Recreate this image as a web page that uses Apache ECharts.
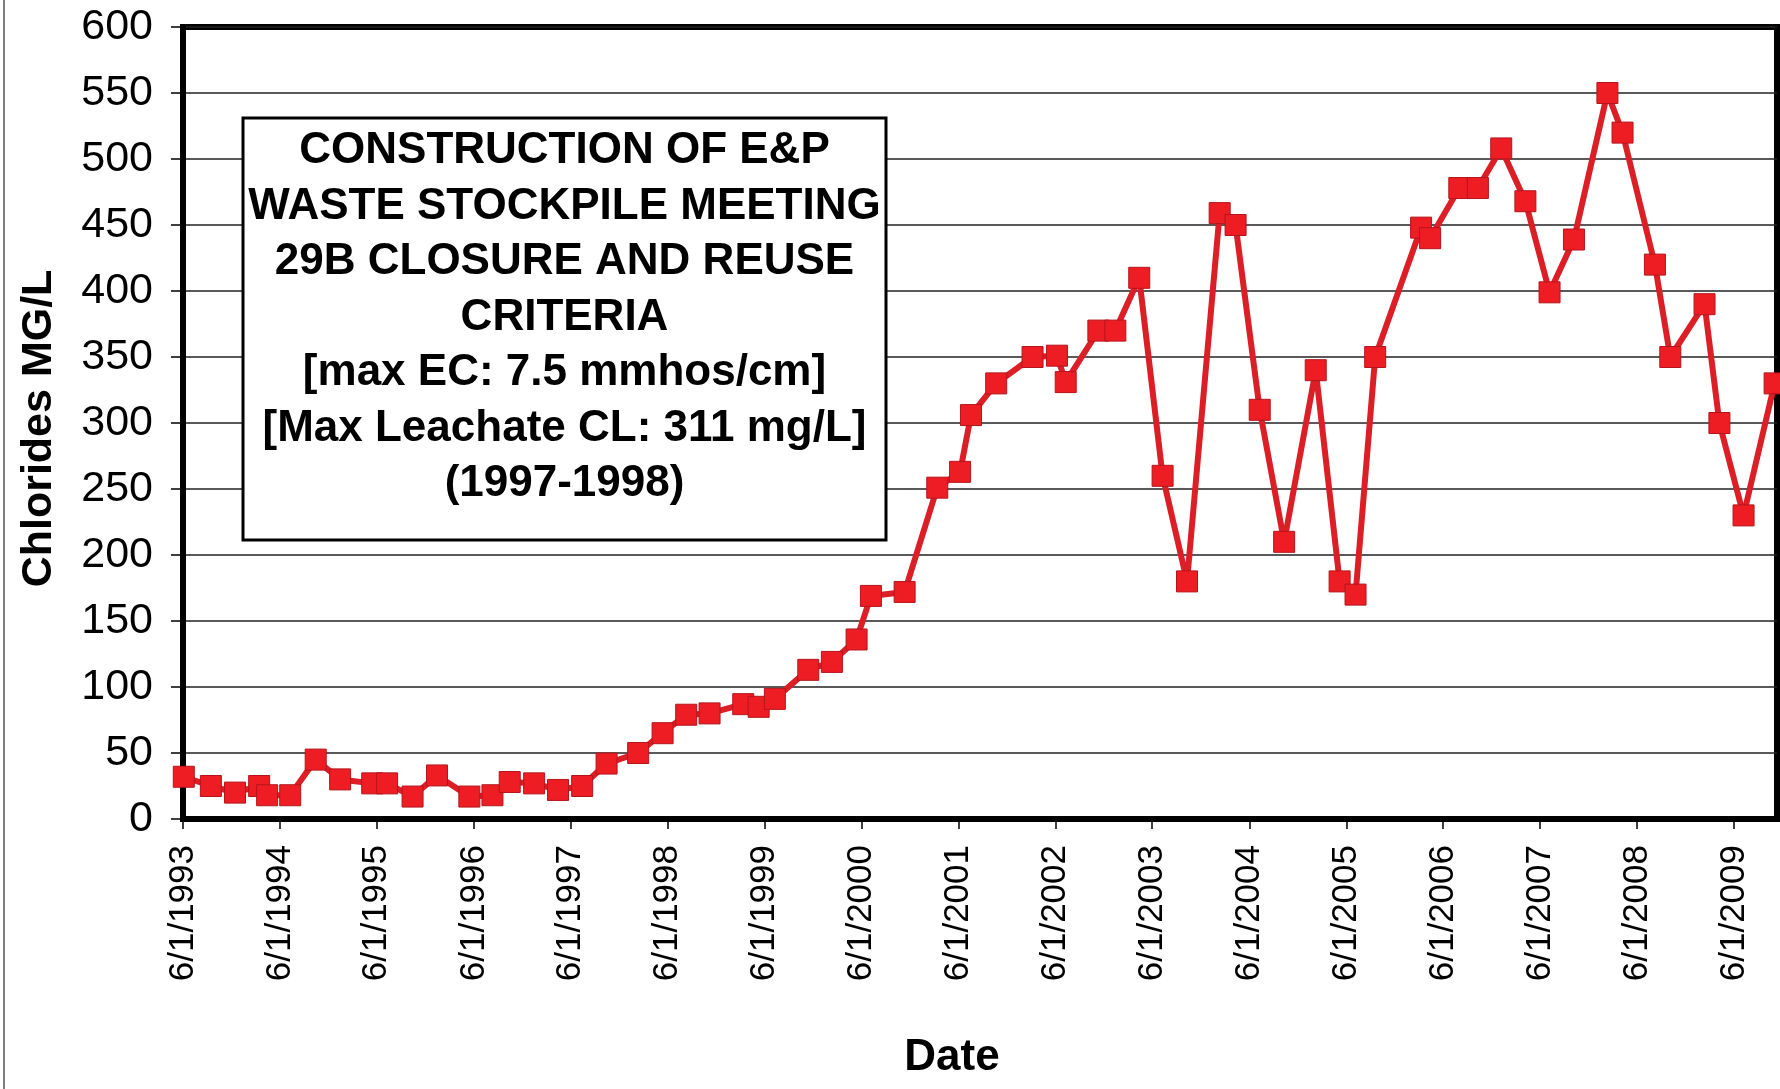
<!DOCTYPE html>
<html>
<head>
<meta charset="utf-8">
<title>Chlorides MG/L</title>
<script src="https://cdn.jsdelivr.net/npm/echarts@6/dist/echarts.min.js"></script>
<style>
  html, body { margin: 0; padding: 0; background: #fff; }
  #chart { width: 1780px; height: 1089px; }
</style>
</head>
<body>
<div id="chart"></div>
<script>
// sample dates (roughly quarterly)
const sampleDates = [
  '1993-06-04', '1993-09-14', '1993-12-14', '1994-03-15', '1994-04-14', '1994-07-10',
  '1994-10-14', '1995-01-14', '1995-05-15', '1995-07-10', '1995-10-14', '1996-01-14',
  '1996-05-15', '1996-08-10', '1996-10-14', '1997-01-14', '1997-04-14', '1997-07-14',
  '1997-10-14', '1998-02-10', '1998-05-13', '1998-08-10', '1998-11-06', '1999-03-13',
  '1999-05-10', '1999-07-10', '1999-11-13', '2000-02-10', '2000-05-13', '2000-07-06',
  '2000-11-10', '2001-03-13', '2001-06-07', '2001-07-18', '2001-10-21', '2002-03-07',
  '2002-06-07', '2002-07-10', '2002-11-10', '2003-01-13', '2003-04-13', '2003-07-10',
  '2003-10-10', '2004-02-10', '2004-04-10', '2004-07-10', '2004-10-10', '2005-02-06',
  '2005-05-07', '2005-07-06', '2005-09-18', '2006-03-10', '2006-04-13', '2006-08-01',
  '2006-10-10', '2007-01-06', '2007-04-07', '2007-07-07', '2007-10-07', '2008-02-10',
  '2008-04-07', '2008-08-07', '2008-10-04', '2009-02-10', '2009-04-07', '2009-07-07',
  '2009-11-01'
];

// chlorides, mg/L
const chlorideValues = [
  32, 25, 20, 25, 18, 18,
  45, 30, 27, 27, 17, 33,
  17, 18, 28, 27, 22, 25,
  42, 50, 65, 79, 80, 87,
  85, 91, 113, 119, 136, 169,
  172, 251, 263, 306, 330, 350,
  351, 331, 370, 370, 410, 260,
  180, 459, 450, 310, 210, 340,
  180, 170, 350, 448, 440, 478,
  478, 508, 468, 399, 439, 550,
  520, 420, 350, 390, 300, 230,
  330
];

// x axis tick labels (every 6/1)
const tickDates = [
  '1993-06-01', '1994-06-01', '1995-06-01', '1996-06-01', '1997-06-01', '1998-06-01',
  '1999-06-01', '2000-06-01', '2001-06-01', '2002-06-01', '2003-06-01', '2004-06-01',
  '2005-06-01', '2006-06-01', '2007-06-01', '2008-06-01', '2009-06-01'
];

const boxLines = [
  'CONSTRUCTION OF E&P',
  'WASTE STOCKPILE MEETING',
  '29B CLOSURE AND REUSE',
  'CRITERIA',
  '[max EC: 7.5 mmhos/cm]',
  '[Max Leachate CL: 311 mg/L]',
  '(1997-1998)'
];

const FONT = '"Liberation Sans", Arial, sans-serif';

function toTime(s) {
  const p = s.split('-');
  return new Date(+p[0], +p[1] - 1, +p[2]).getTime();
}

const seriesData = sampleDates.map(function (d, i) {
  return [toTime(d), chlorideValues[i]];
});
const tickTimes = tickDates.map(toTime);

const chart = echarts.init(document.getElementById('chart'), null, { renderer: 'canvas' });

const option = {
  backgroundColor: '#fff',
  animation: false,
  grid: {
    left: 183,
    right: 3,
    top: 27,
    bottom: 270,
    outerBoundsMode: 'none',
    show: true,
    borderColor: '#000',
    borderWidth: 6,
    backgroundColor: 'transparent'
  },
  // dates kept as timestamps on a plain value axis, ticks placed at 6/1 each year
  xAxis: {
    type: 'value',
    min: toTime('1993-06-01'),
    max: toTime('2009-11-10'),
    axisLine: { show: true, onZero: false, lineStyle: { color: '#000', width: 6 } },
    axisTick: {
      show: true,
      customValues: tickTimes,
      length: 10,
      lineStyle: { color: '#000', width: 1.5 }
    },
    axisLabel: {
      customValues: tickTimes,
      rotate: 90,
      margin: 26,
      fontFamily: FONT,
      fontSize: 35,
      color: '#000',
      formatter: function (val) {
        const d = new Date(val);
        return (d.getMonth() + 1) + '/' + d.getDate() + '/' + d.getFullYear();
      }
    },
    splitLine: { show: false }
  },
  yAxis: {
    type: 'value',
    min: 0,
    max: 600,
    interval: 50,
    name: 'Chlorides MG/L',
    nameLocation: 'middle',
    nameGap: 122,
    nameRotate: 90,
    nameTextStyle: { fontFamily: FONT, fontSize: 43, fontWeight: 'bold', color: '#000', padding: [0, 11, 0, 0] },
    axisLine: { show: true, lineStyle: { color: '#000', width: 6 } },
    axisTick: { show: true, length: 12, lineStyle: { color: '#000', width: 1.5 } },
    axisLabel: { margin: 30, fontFamily: FONT, fontSize: 43, color: '#000' },
    splitLine: { show: true, lineStyle: { color: '#222', width: 1.5 } }
  },
  series: [{
    type: 'line',
    data: seriesData,
    symbol: 'rect',
    symbolSize: 21,
    showAllSymbol: true,
    clip: false,
    lineStyle: { color: '#dc1f27', width: 6 },
    itemStyle: { color: '#ee1d24', borderColor: '#b3151c', borderWidth: 1 },
    z: 3
  }],
  graphic: [
    // thin frame line on the far left of the picture
    {
      type: 'line',
      shape: { x1: 4, y1: 0, x2: 4, y2: 1089 },
      style: { stroke: '#555', lineWidth: 1.5 },
      silent: true
    },
    // annotation box
    {
      type: 'rect',
      shape: { x: 243, y: 118, width: 643, height: 422 },
      style: { fill: '#fff', stroke: '#000', lineWidth: 3 },
      z: 10
    },
    {
      type: 'text',
      x: 564.5,
      y: 317.5,
      z: 11,
      style: {
        text: boxLines.join('\n'),
        font: 'bold 44px ' + FONT,
        fill: '#000',
        align: 'center',
        verticalAlign: 'middle',
        lineHeight: 55.5
      }
    },
    // x axis title
    {
      type: 'text',
      x: 952,
      y: 1058,
      style: {
        text: 'Date',
        font: 'bold 44px ' + FONT,
        fill: '#000',
        align: 'center',
        verticalAlign: 'middle'
      }
    }
  ]
};

chart.setOption(option);
</script>
</body>
</html>
